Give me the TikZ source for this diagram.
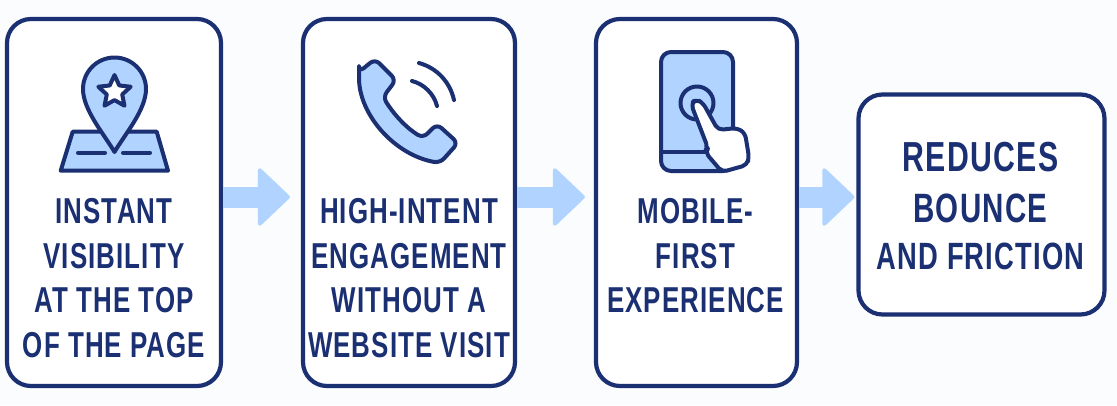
\documentclass[tikz,border=0pt]{standalone}
\usepackage{fontspec}
\setmainfont[FakeStretch=0.72,LetterSpace=3]{Liberation Sans}
\usepackage{tikz}
\usetikzlibrary{arrows.meta,shapes.geometric}
\definecolor{dfnavy}{RGB}{27,47,115}
\definecolor{dflightblue}{RGB}{176,212,255}
\definecolor{dfpage}{RGB}{251,252,254}
\tikzstyle{arrow} = [line width=21pt,-{Triangle[round,length=33pt,width=62pt,line width=4pt]},color=dflightblue]
\tikzstyle{card} = [rectangle, rounded corners=24pt, draw=dfnavy, fill=white, line width=4.2pt, inner sep=0pt]
\tikzstyle{caption} = [text=dfnavy, align=center, font=\bfseries\fontsize{36}{44.5}\selectfont, inner sep=0pt]
\tikzstyle{icon} = [draw=dfnavy, line width=4pt, line join=round, line cap=round]

\begin{document}
\begin{tikzpicture}[x=1pt, y=-1pt]
\useasboundingbox[fill=dfpage] (0,0) rectangle (1117,405);
% Cards
\node (visibility) [card, minimum width=214pt, minimum height=367pt] at (114,202.5) {};
\node (engagement) [card, minimum width=212pt, minimum height=367pt] at (409,202.5) {};
\node (mobile) [card, minimum width=201pt, minimum height=367pt] at (696.5,202.5) {};
\node (reduces) [card, minimum width=246pt, minimum height=220pt] at (981.5,204.5) {};

% Captions
\node (visibilitytext) [caption] at (114,278) {INSTANT\\VISIBILITY\\AT THE TOP\\OF THE PAGE};
\node (engagementtext) [caption] at (409,278) {HIGH-INTENT\\ENGAGEMENT\\WITHOUT A\\WEBSITE VISIT};
\node (mobiletext) [caption] at (695.5,256) {MOBILE-\\FIRST\\EXPERIENCE};
\node (reducestext) [caption] at (980.5,206) {{\fontsize{42}{0}\selectfont REDUCES}\\[6.5pt]{\fontsize{41}{0}\selectfont BOUNCE}\\[3pt]{\fontsize{38}{0}\selectfont AND FRICTION}};

% Arrows
\draw[arrow, shorten >=11pt] ([yshift=5.5pt]visibility.east) -- ([yshift=5.5pt]engagement.west);
\draw[arrow, shorten >=9pt] ([yshift=5.5pt]engagement.east) -- ([yshift=5.5pt]mobile.west);
\draw[arrow, shorten >=2pt] ([yshift=5.5pt]mobile.east) -- ([yshift=7.5pt]reduces.west);

% Map pin icon
\draw[icon, fill=dflightblue] (72.7,131.7) -- (156.7,131.7) -- (168,170.7) -- (60.7,170.7) -- cycle;
\draw[icon] (78,152.7) -- (105,152.7) (123,152.7) -- (150,152.7);
\draw[icon, fill=dflightblue] (114.5,152) .. controls (104,134) and (83,110) .. (83,89) arc[start angle=180, end angle=360, radius=31.5] .. controls (146,110) and (125,134) .. cycle;
\node (pinstar) [star, star points=5, star point ratio=2.1, minimum size=34pt, inner sep=0pt, draw=dfnavy, fill=white, line width=4pt, line join=round] at (114.5,92) {};

% Phone icon
\draw[icon, fill=dflightblue, rounded corners=6pt] (359,72) -- (375,59) -- (396,80) -- (383,97) .. controls (393,113) and (405,127) .. (423,138) -- (437,124) -- (458,143) -- (440,163) .. controls (395,155) and (359,115) .. cycle;
\draw[icon] (419,63) .. controls (437,68) and (450,82) .. (454,100);
\draw[icon] (412,81) .. controls (424,84) and (434,94) .. (437,106);

% Phone with hand icon
\draw[icon, fill=dflightblue, rounded corners=10pt] (661,52) rectangle (733,171);
\draw[icon] (661,152) -- (708,152);
\draw[icon, fill=dflightblue] (697,103) circle[radius=16.5];
\draw[icon, fill=white, rounded corners=5pt] (691,104) -- (708,148) -- (705,152) -- (722,172) -- (747,165) -- (749,157) -- (745,133) -- (737,128) -- (718,130) -- (703,103) -- (696,99) -- cycle;
\end{tikzpicture}
\end{document}
